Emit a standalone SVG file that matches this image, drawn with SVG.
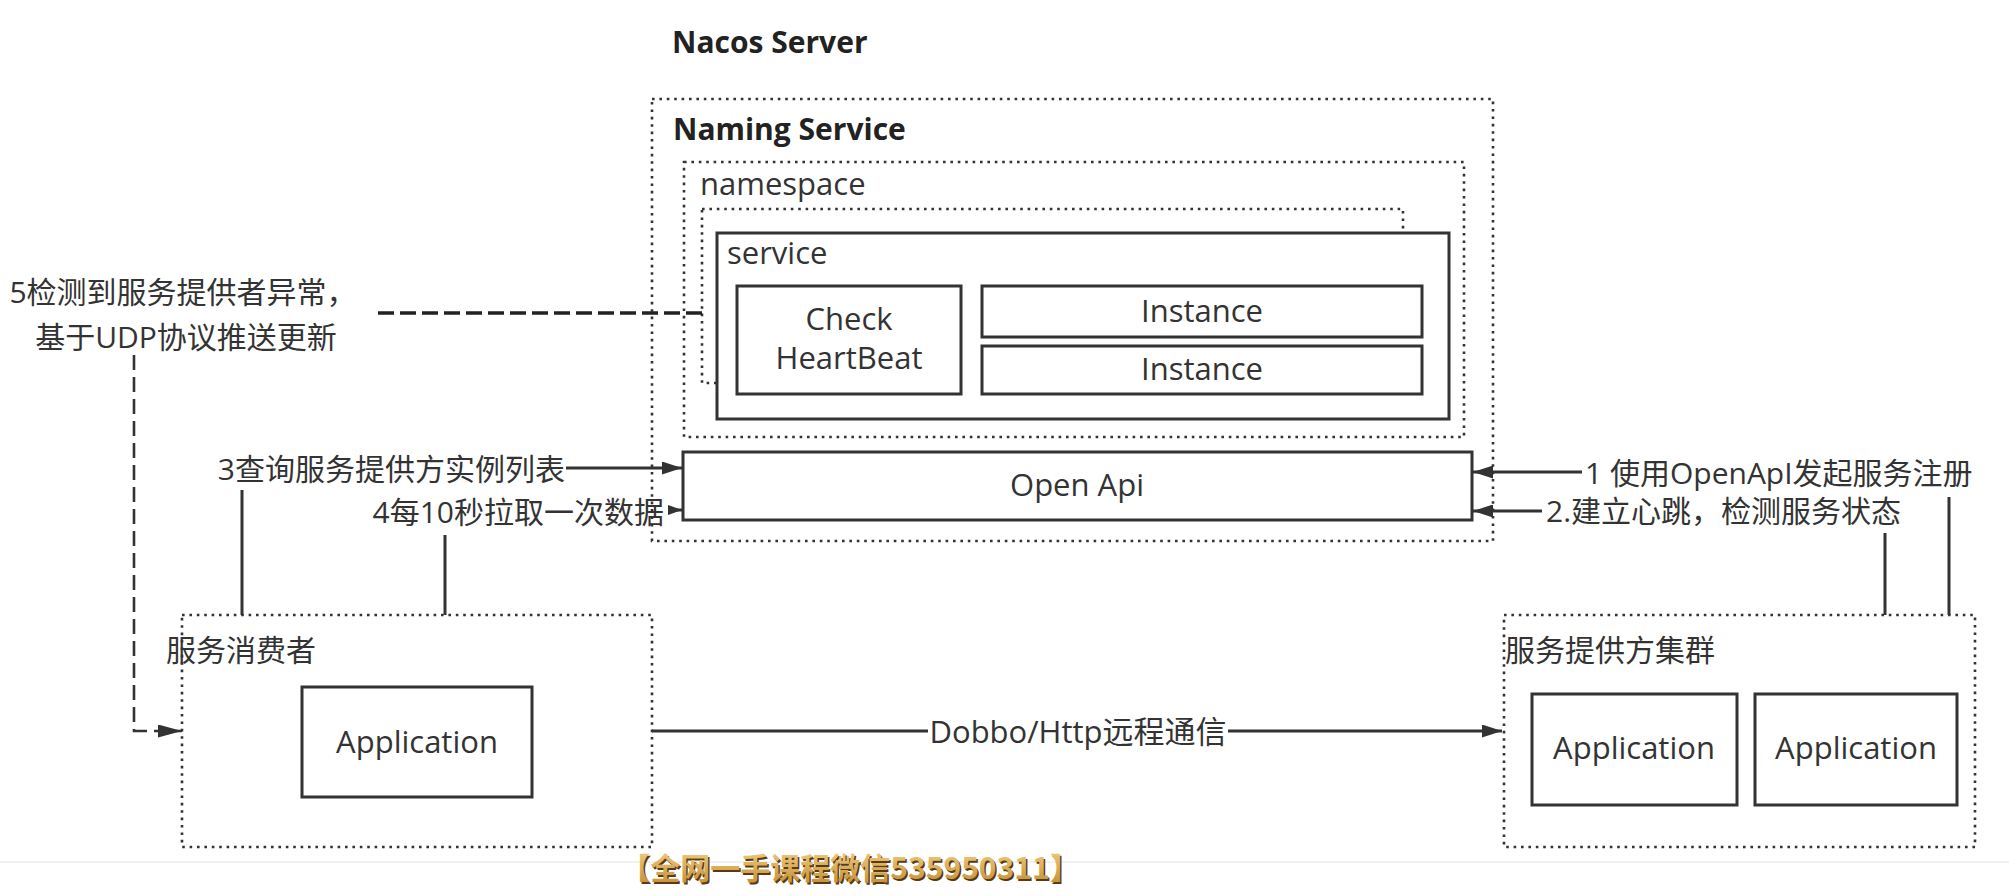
<svg xmlns="http://www.w3.org/2000/svg" width="2009" height="896" viewBox="0 0 2009 896">
<style>
.bg{fill:#ffffff}
.dot{fill:none;stroke:#333;stroke-width:2.6;stroke-dasharray:2.6 4.8}
.box{fill:#ffffff;stroke:#333;stroke-width:3}
.ln{fill:none;stroke:#333;stroke-width:3}
.dash5{fill:none;stroke:#222;stroke-width:3.6;stroke-dasharray:16 6}
.dashv{fill:none;stroke:#333;stroke-width:2.6;stroke-dasharray:15 7}
.t{font-family:"Open Sans","Noto Sans CJK SC",sans-serif;fill:#333;font-size:31px}
.c{font-family:"Open Sans","Noto Sans CJK SC",sans-serif;fill:#333;font-size:30px}
.b{font-family:"Open Sans","Noto Sans CJK SC",sans-serif;fill:#222;font-size:30px;font-weight:bold}
.mid{text-anchor:middle}
.end{text-anchor:end}
.wm{font-family:"Noto Sans CJK SC",sans-serif;font-size:30px;font-weight:bold;text-anchor:middle}
</style>
<defs>
<marker id="arr" viewBox="0 0 20 13" refX="20" refY="6.5" markerWidth="20" markerHeight="13" markerUnits="userSpaceOnUse" orient="auto">
<path d="M0,0 L20,6.5 L0,13 z" fill="#333"/>
</marker>
<marker id="arrS" viewBox="0 0 14 10" refX="14" refY="5" markerWidth="14" markerHeight="10" markerUnits="userSpaceOnUse" orient="auto">
<path d="M0,0 L14,5 L0,10 z" fill="#333"/>
</marker>
<marker id="arrD" viewBox="0 0 24 13" refX="24" refY="6.5" markerWidth="24" markerHeight="13" markerUnits="userSpaceOnUse" orient="auto">
<path d="M0,0 L24,6.5 L0,13 z" fill="#333"/>
</marker>
<linearGradient id="gold" x1="0" y1="0" x2="0" y2="1">
<stop offset="0" stop-color="#f6d68e"/>
<stop offset="1" stop-color="#c08a2e"/>
</linearGradient>
</defs>
<rect class="bg" x="0" y="0" width="2009" height="896"/>
<line x1="0" y1="862" x2="2009" y2="862" stroke="#ececec" stroke-width="1.5"/>

<g id="nacos-server">
<text class="b" x="672" y="53">Nacos Server</text>
<rect class="dot" x="652" y="99" width="841" height="442"/>
</g>

<g id="naming-service">
<text class="b" x="673" y="140">Naming Service</text>
</g>

<g id="namespace">
<rect class="dot" x="684" y="162" width="780" height="275"/>
<text class="t" x="700" y="195">namespace</text>
<rect class="dot" x="702" y="209" width="701" height="174"/>
</g>

<g id="service">
<rect class="box" x="717" y="233" width="732" height="186"/>
<text class="t" x="727" y="264">service</text>
</g>

<g id="check-heartbeat">
<rect class="box" x="737" y="286" width="224" height="108"/>
<text class="t mid" x="849" y="330">Check</text>
<text class="t mid" x="849" y="369">HeartBeat</text>
</g>

<g id="instance-1">
<rect class="box" x="982" y="286" width="440" height="51"/>
<text class="t mid" x="1202" y="322">Instance</text>
</g>

<g id="instance-2">
<rect class="box" x="982" y="346" width="440" height="48"/>
<text class="t mid" x="1202" y="380">Instance</text>
</g>

<g id="open-api">
<rect class="box" x="683" y="452" width="789" height="68"/>
<text class="t mid" x="1077" y="496">Open Api</text>
</g>

<g id="consumer">
<rect class="dot" x="182" y="615" width="470" height="232"/>
<text class="c" x="166" y="661">服务消费者</text>
</g>

<g id="consumer-app">
<rect class="box" x="302" y="687" width="230" height="110"/>
<text class="t mid" x="417" y="753">Application</text>
</g>

<g id="provider">
<rect class="dot" x="1504" y="615" width="471" height="232"/>
<text class="c" x="1505" y="661">服务提供方集群</text>
</g>

<g id="provider-app-1">
<rect class="box" x="1532" y="694" width="205" height="111"/>
<text class="t mid" x="1634" y="759">Application</text>
</g>

<g id="provider-app-2">
<rect class="box" x="1755" y="694" width="202" height="111"/>
<text class="t mid" x="1856" y="759">Application</text>
</g>

<g id="connectors">
<path class="dash5" d="M378,313 H703"/>
<path class="dashv" d="M134,355 V731 H182" marker-end="url(#arrD)"/>
<line class="ln" x1="242" y1="490" x2="242" y2="615"/>
<line class="ln" x1="566" y1="468" x2="682" y2="468" marker-end="url(#arr)"/>
<line class="ln" x1="445" y1="535" x2="445" y2="615"/>
<line class="ln" x1="668" y1="510" x2="682" y2="510" marker-end="url(#arrS)"/>
<line class="ln" x1="1582" y1="472" x2="1473" y2="472" marker-end="url(#arr)"/>
<line class="ln" x1="1949" y1="497" x2="1949" y2="615"/>
<line class="ln" x1="1542" y1="511" x2="1473" y2="511" marker-end="url(#arr)"/>
<line class="ln" x1="1885" y1="533" x2="1885" y2="615"/>
<line class="ln" x1="652" y1="731" x2="928" y2="731"/>
<line class="ln" x1="1228" y1="731" x2="1502" y2="731" marker-end="url(#arr)"/>
</g>

<g id="labels">
<text class="c mid" x="183" y="303">5检测到服务提供者异常，</text>
<text class="c mid" x="186" y="348">基于UDP协议推送更新</text>
<text class="c end" x="565" y="480">3查询服务提供方实例列表</text>
<text class="c end" x="664" y="523">4每10秒拉取一次数据</text>
<text class="c" x="1585" y="484">1 使用OpenApI发起服务注册</text>
<text class="c" x="1546" y="522">2.建立心跳，检测服务状态</text>
<text class="t mid" x="1078" y="743">Dobbo/Http远程通信</text>
</g>

<g id="watermark">
<text class="wm" x="851.5" y="880.5" fill="#5a3a12">【全网一手课程微信535950311】</text>
<text class="wm" x="850" y="879" fill="url(#gold)">【全网一手课程微信535950311】</text>
</g>
</svg>
